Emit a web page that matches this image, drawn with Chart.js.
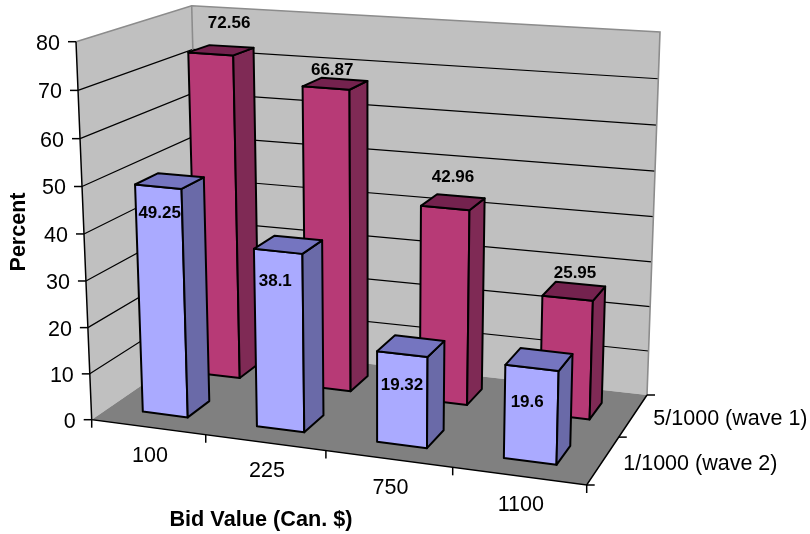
<!DOCTYPE html>
<html>
<head>
<meta charset="utf-8">
<title>Percent by bid value</title>
<script src="https://cdn.jsdelivr.net/npm/chart.js@4"></script>
<style>
html, body { margin: 0; padding: 0; background: #fff; }
canvas { display: block; }
</style>
</head>
<body>
<canvas id="myChart" width="810" height="534"></canvas>
<script>
var bidValues = ['100', '225', '750', '1100'];
var waves = ['1/1000 (wave 2)', '5/1000 (wave 1)'];
var wave2 = [49.25, 38.1, 19.32, 19.6];
var wave1 = [72.56, 66.87, 42.96, 25.95];

/* corners of the 3D box, in order front-left, front-right, back-right, back-left */
var floorQuad = [[91.7, 419.7], [586.7, 485], [647, 395], [200.5, 345]];
var ceilQuad = [[76, 41.7], [597, 85], [660, 32], [191.7, 5.7]];
var heightBend = 1.035;
var barDepth = 0.2;
var FONT = '"Liberation Sans", Arial, sans-serif';

/* value label nudges from the centre of each bar top */
var labelNudge = [
    [[-10, 32], [-13, 37], [-9, 39], [-12, 43]],
    [[8, -27], [-3, -13], [0, -25], [1, -18]]
];
var faceColors = [
    { front: '#AAAAFF', side: '#6A6AA8', top: '#7575C0' },
    { front: '#B73A76', side: '#7F2A55', top: '#74224E' }
];

// homography taking the unit square onto a quad
function squareToQuad(q) {
    var dx1 = q[1][0] - q[2][0], dx2 = q[3][0] - q[2][0], sx = q[0][0] - q[1][0] + q[2][0] - q[3][0];
    var dy1 = q[1][1] - q[2][1], dy2 = q[3][1] - q[2][1], sy = q[0][1] - q[1][1] + q[2][1] - q[3][1];
    var den = dx1 * dy2 - dx2 * dy1;
    var g = (sx * dy2 - dx2 * sy) / den;
    var h = (dx1 * sy - sx * dy1) / den;
    var a = q[1][0] - q[0][0] + g * q[1][0];
    var b = q[3][0] - q[0][0] + h * q[3][0];
    var d = q[1][1] - q[0][1] + g * q[1][1];
    var e = q[3][1] - q[0][1] + h * q[3][1];
    return function (u, w) {
        var k = g * u + h * w + 1;
        return [(a * u + b * w + q[0][0]) / k, (d * u + e * w + q[0][1]) / k];
    };
}
var floorMap = squareToQuad(floorQuad);

// rise from floor to ceiling, blended between the four box corners
function riseAt(u, w, axis) {
    var rise = function (c) { return ceilQuad[c][axis] - floorQuad[c][axis]; };
    return (1 - w) * ((1 - u) * rise(0) + u * rise(1)) + w * ((1 - u) * rise(3) + u * rise(2));
}

// u along the categories, w into the page, t up the value axis (all 0..1)
function project(u, w, t) {
    var lo = floorMap(u, w);
    var s = t / (t + (1 - t) * heightBend);
    return [lo[0] + riseAt(u, w, 0) * s, lo[1] + riseAt(u, w, 1) * s];
}

function poly(ctx, pts, fill, stroke, lw) {
    ctx.beginPath();
    pts.forEach(function (p, i) {
        if (i === 0) ctx.moveTo(p[0], p[1]); else ctx.lineTo(p[0], p[1]);
    });
    if (fill) { ctx.closePath(); ctx.fillStyle = fill; ctx.fill(); }
    if (stroke) { ctx.strokeStyle = stroke; ctx.lineWidth = lw; ctx.stroke(); }
}

function text(ctx, str, x, y, font, align) {
    ctx.font = font;
    ctx.fillStyle = '#000';
    ctx.textAlign = align || 'center';
    ctx.textBaseline = 'middle';
    ctx.fillText(str, x, y);
}

function drawWalls(chart, ctx) {
    var yScale = chart.scales.y;
    var tOf = function (v) { return (yScale.bottom - yScale.getPixelForValue(v)) / (yScale.bottom - yScale.top); };

    poly(ctx, [project(0, 1, 0), project(1, 1, 0), project(1, 1, 1), project(0, 1, 1)], '#C0C0C0');
    poly(ctx, [project(0, 0, 0), project(0, 1, 0), project(0, 1, 1), project(0, 0, 1)], '#C0C0C0');
    poly(ctx, [project(0, 0, 0), project(1, 0, 0), project(1, 1, 0), project(0, 1, 0)], '#808080');

    // gridlines run along the side wall and then across the back wall
    yScale.ticks.forEach(function (tick) {
        var t = tOf(tick.value);
        if (t > 0 && t < 1) {
            poly(ctx, [project(0, 0, t), project(0, 1, t), project(1, 1, t)], null, '#000', 1.2);
        }
    });

    poly(ctx, [project(0, 0, 1), project(0, 1, 1), project(1, 1, 1), project(1, 1, 0)], null, '#8C8C8C', 1.6);
    poly(ctx, [project(0, 1, 1), project(0, 1, 0)], null, '#8C8C8C', 1.6);

    // axis lines and tick marks
    poly(ctx, [project(0, 0, 1), project(0, 0, 0), project(1, 0, 0), project(1, 1, 0)], null, '#000', 1.5);
    yScale.ticks.forEach(function (tick) {
        var p = project(0, 0, tOf(tick.value));
        poly(ctx, [[p[0] - 8, p[1]], p], null, '#000', 1.5);
        text(ctx, String(tick.value), p[0] - 16, p[1] + 2, '21.5px ' + FONT, 'right');
    });
    var xScale = chart.scales.x;
    for (var i = 0; i <= bidValues.length; i++) {
        var p = project(i / bidValues.length, 0, 0);
        poly(ctx, [p, [p[0], p[1] + 8]], null, '#000', 1.5);
    }
    bidValues.forEach(function (label, i) {
        var u = (xScale.getPixelForValue(i) - xScale.left) / (xScale.right - xScale.left);
        var p = project(u, 0, 0);
        text(ctx, label, p[0] + 2, p[1] + 29, '21.5px ' + FONT);
    });
    var zScale = chart.scales.depth;
    for (var k = 0; k <= waves.length; k++) {
        var q = project(1, k / waves.length, 0);
        poly(ctx, [q, [q[0] + 8, q[1]]], null, '#000', 1.5);
    }
    waves.forEach(function (label, i) {
        var w = (zScale.getPixelForValue(i) - zScale.left) / (zScale.right - zScale.left);
        var p = project(1, w, 0);
        text(ctx, label, p[0] + 20, p[1] + 4, '21.5px ' + FONT, 'left');
    });
}

function drawBars(chart, ctx) {
    var area = chart.chartArea;
    var zScale = chart.scales.depth;
    var labels = [];
    ctx.lineJoin = 'round';
    // far row first so the near row paints over it
    [1, 0].forEach(function (d) {
        var colors = faceColors[d];
        var w = (zScale.getPixelForValue(d) - zScale.left) / (zScale.right - zScale.left);
        var w0 = w - barDepth / 2, w1 = w + barDepth / 2;
        chart.getDatasetMeta(d).data.forEach(function (bar, i) {
            var u0 = (bar.x - bar.width / 2 - area.left) / area.width;
            var u1 = (bar.x + bar.width / 2 - area.left) / area.width;
            var t = (bar.base - bar.y) / area.height;
            poly(ctx, [project(u0, w0, 0), project(u1, w0, 0), project(u1, w0, t), project(u0, w0, t)], colors.front, '#000', 2);
            poly(ctx, [project(u1, w0, 0), project(u1, w1, 0), project(u1, w1, t), project(u1, w0, t)], colors.side, '#000', 2);
            poly(ctx, [project(u0, w0, t), project(u1, w0, t), project(u1, w1, t), project(u0, w1, t)], colors.top, '#000', 2);
            var c = project((u0 + u1) / 2, w, t);
            labels.push([chart.data.datasets[d].data[i], c[0] + labelNudge[d][i][0], c[1] + labelNudge[d][i][1]]);
        });
    });
    labels.forEach(function (l) {
        text(ctx, String(l[0]), l[1], l[2], 'bold 17px ' + FONT);
    });
}

var box3d = {
    id: 'box3d',
    beforeDatasetsDraw: function (chart) {
        var ctx = chart.ctx;
        ctx.save();
        drawWalls(chart, ctx);
        drawBars(chart, ctx);

        text(ctx, 'Bid Value (Can. $)', 261, 520, 'bold 21.7px ' + FONT);
        ctx.translate(19, 232);
        ctx.rotate(-Math.PI / 2);
        text(ctx, 'Percent', 0, 0, 'bold 21.5px ' + FONT);
        ctx.restore();
        return false;
    }
};

var ctx = document.getElementById('myChart').getContext('2d');
var myChart = new Chart(ctx, {
    type: 'bar',
    data: {
        labels: bidValues,
        datasets: [
            { label: waves[0], data: wave2, backgroundColor: faceColors[0].front },
            { label: waves[1], data: wave1, backgroundColor: faceColors[1].front }
        ]
    },
    options: {
        responsive: false,
        animation: false,
        grouped: false,
        barPercentage: 0.4,
        categoryPercentage: 1,
        layout: { padding: 0 },
        plugins: { legend: { display: false }, tooltip: { enabled: false } },
        scales: {
            x: { display: false, type: 'category' },
            y: { display: false, min: 0, max: 80, ticks: { stepSize: 10 } },
            depth: { display: false, type: 'category', axis: 'x', labels: waves }
        }
    },
    plugins: [box3d]
});
</script>
</body>
</html>
